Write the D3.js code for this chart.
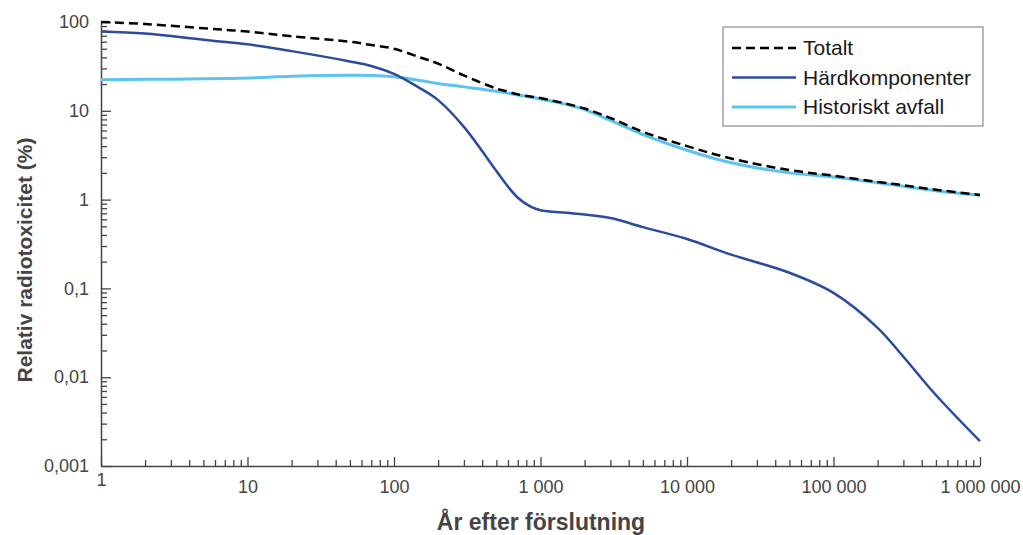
<!DOCTYPE html>
<meta charset="utf-8">
<style>
body { margin: 0; background: #fff; }
text { font-family: "Liberation Sans", Arial, sans-serif; }
.tick text { fill: #444; font-size: 18px; }
.tick line { stroke: #444; stroke-width: 1.3px; }
.domain { stroke: #444; stroke-width: 1.5px; }
.line { fill: none; }
</style>
<body>
<script src="https://cdn.jsdelivr.net/npm/d3@7"></script>
<script>

// years after closure
var years = [1, 2, 5, 10, 20, 50, 70, 100, 150, 200, 300, 500, 600, 700, 850, 1000, 1500, 2000, 3000, 5000,
             10000, 20000, 50000, 100000, 200000, 300000, 500000, 1000000];

// relative radiotoxicity (%)
var totalt = [100, 95, 85, 78, 69, 60, 55, 50, 40, 34, 25, 17.8, 16.4, 15.3, 14.5, 13.9, 12.0, 10.6, 8.3, 5.8,
              4.0, 2.9, 2.15, 1.86, 1.58, 1.45, 1.29, 1.13];
var hardkomponenter = [78, 74, 63, 56, 47, 36, 32, 26, 18, 13.2, 6.6, 2.1, 1.4, 1.05, 0.84, 0.76, 0.71, 0.68, 0.62, 0.49,
                       0.36, 0.24, 0.15, 0.089, 0.036, 0.017, 0.0063, 0.0019];
var historiskt = [22.4, 22.6, 22.9, 23.4, 24.5, 25.1, 25, 24.2, 22, 20.3, 18.6, 16.6, 15.8, 15.1, 14.3, 13.6, 11.8, 10.3, 7.8, 5.4,
                  3.6, 2.6, 2.0, 1.8, 1.55, 1.41, 1.26, 1.12];

var xTicks = [1, 10, 100, 1000, 10000, 100000, 1000000];
var yTicks = [0.001, 0.01, 0.1, 1, 10, 100];

var series = [
  {name: "Totalt", values: totalt, color: "#000", width: 2.5, dash: "9,5"},
  {name: "Härdkomponenter", values: hardkomponenter, color: "#2d4b9c", width: 2.5, dash: null},
  {name: "Historiskt avfall", values: historiskt, color: "#5cc3ef", width: 3, dash: null}
];

var width = 1023, height = 535;
var plot = {left: 101, right: 980, top: 22, bottom: 466};

var sv = d3.formatLocale({decimal: ",", thousands: " ", grouping: [3], currency: ["", ""]});
var fmtX = sv.format(",d");
var fmtY = function(d) { return d >= 1 ? sv.format(",d")(d) : sv.format("." + Math.round(-Math.log10(d)) + "f")(d); };

var x = d3.scaleLog().domain([1, 1e6]).range([plot.left, plot.right]);
var y = d3.scaleLog().domain([0.001, 100]).range([plot.bottom, plot.top]);

function minors(lo, hi) {
  var out = [];
  for (var p = lo; p < hi; p++)
    for (var k = 2; k <= 9; k++) out.push(k * Math.pow(10, p));
  return out;
}

var svg = d3.select("body").append("svg")
    .attr("width", width)
    .attr("height", height);

// y axis: ticks point inward (to the right)
svg.append("g")
    .attr("transform", "translate(" + plot.left + ",0)")
    .call(d3.axisRight(y).tickValues(minors(-3, 2)).tickSize(6).tickFormat(""))
    .call(function(g) { g.select(".domain").remove(); });
svg.append("g")
    .attr("transform", "translate(" + plot.left + ",0)")
    .call(d3.axisRight(y).tickValues(yTicks).tickSize(10).tickFormat("").tickSizeOuter(0));
svg.append("g")
    .attr("transform", "translate(" + plot.left + ",0)")
    .call(d3.axisLeft(y).tickValues(yTicks).tickSize(0).tickPadding(12).tickFormat(fmtY))
    .call(function(g) { g.select(".domain").remove(); });

// x axis: ticks point inward (upward)
svg.append("g")
    .attr("transform", "translate(0," + plot.bottom + ")")
    .call(d3.axisTop(x).tickValues(minors(0, 6)).tickSize(6).tickFormat(""))
    .call(function(g) { g.select(".domain").remove(); });
svg.append("g")
    .attr("transform", "translate(0," + plot.bottom + ")")
    .call(d3.axisTop(x).tickValues(xTicks).tickSize(9).tickFormat("").tickSizeOuter(0));
svg.append("g")
    .attr("transform", "translate(0," + plot.bottom + ")")
    .call(d3.axisBottom(x).tickValues(xTicks).tickSize(0).tickPadding(14).tickFormat(fmtX))
    .call(function(g) {
      g.select(".domain").remove();
      g.selectAll(".tick text").filter(function(d) { return d === 1; }).attr("dy", "0.33em");
    });

// lines
var line = d3.line()
    .x(function(d) { return x(d[0]); })
    .y(function(d) { return y(d[1]); })
    .curve(d3.curveCatmullRom.alpha(0.5));

series.slice().reverse().forEach(function(s) {
  svg.append("path")
      .datum(years.map(function(yr, i) { return [yr, s.values[i]]; }))
      .attr("class", "line")
      .attr("d", line)
      .style("stroke", s.color)
      .style("stroke-width", s.width)
      .style("stroke-dasharray", s.dash);
});

// legend
var legend = svg.append("g").attr("transform", "translate(723,27)");
legend.append("rect")
    .attr("width", 260).attr("height", 99)
    .attr("fill", "#fff").attr("stroke", "#8c8c8c").attr("stroke-width", 1.2);
series.forEach(function(s, i) {
  var row = legend.append("g").attr("transform", "translate(0," + (21 + i * 29.5) + ")");
  row.append("line")
      .attr("x1", 9).attr("x2", 73)
      .style("stroke", s.color)
      .style("stroke-width", s.width)
      .style("stroke-dasharray", s.dash);
  row.append("text")
      .attr("x", 80).attr("dy", "0.35em")
      .style("font-size", "21px").style("fill", "#1a1a1a")
      .text(s.name);
});

// axis titles
svg.append("text")
    .attr("transform", "translate(32,260) rotate(-90)")
    .attr("text-anchor", "middle")
    .style("font-size", "21px").style("font-weight", "bold").style("fill", "#444")
    .text("Relativ radiotoxicitet (%)");

svg.append("text")
    .attr("x", 541).attr("y", 530)
    .attr("text-anchor", "middle")
    .style("font-size", "23px").style("font-weight", "bold").style("fill", "#444")
    .text("År efter förslutning");

</script>
</body>
